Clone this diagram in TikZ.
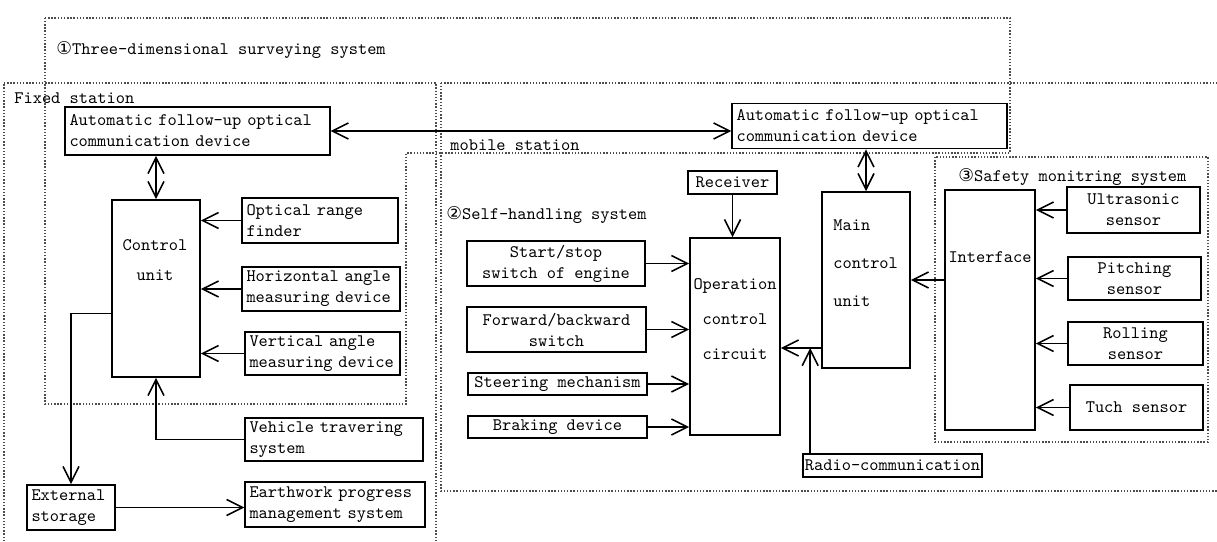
\documentclass[tikz,border=0pt]{standalone}
\usepackage{fontspec}
\newfontfamily\circfont{DejaVu Sans}
\usetikzlibrary{arrows.meta}

\begin{document}
\begin{tikzpicture}[x=0.02cm, y=-0.02cm,
    blk/.style = {draw, line width=0.9pt, font=\ttfamily, align=center, inner sep=1pt},
    lblk/.style = {blk, align=left, inner xsep=2.5pt},
    txt/.style = {font=\ttfamily, align=center, inner sep=0pt},
    frame/.style = {densely dotted, line width=0.8pt, black!70},
    arr/.style = {line width=0.9pt, -{Straight Barb[length=3.2mm, width=3.2mm]}},
    darr/.style = {line width=0.9pt, {Straight Barb[length=3.2mm, width=3.2mm]}-{Straight Barb[length=3.2mm, width=3.2mm]}}]
        \clip (0,0) rectangle (1217,541);

        % dotted frames
        \draw[frame] (45,18) -- (1010,18) -- (1010,153) -- (406,153) -- (406,404) -- (45,404) -- cycle;
        \draw[frame] (4,83) -- (436,83) -- (436,560) -- (4,560) -- cycle;
        \draw[frame] (441,83) -- (1240,83) -- (1240,491) -- (441,491) -- cycle;
        \draw[frame] (935,157) rectangle (1208,442);

        \node[txt, anchor=west] (title) at (56,50) {{\circfont ①}Three-dimensional surveying system};
        \node[txt, anchor=west] (fixlbl) at (14,98) {Fixed station};
        \node[txt, anchor=west] (moblbl) at (450,145) {mobile station};
        \node[txt, anchor=west] (selflbl) at (446,215) {{\circfont ②}Self-handling system};
        \node[txt, anchor=west] (safelbl) at (958,177) {{\circfont ③}Safety monitring system};

        % fixed station
        \node[lblk, text width=5.12cm, minimum height=0.96cm] (fixcomm) at (197.5,131) {Automatic follow-up optical\\communication device};
        \node[blk, minimum width=1.76cm, minimum height=3.54cm] (ctrl) at (156,288.5) {};
        \node[txt] (ctrltxt) at (155,260) {Control\\[5pt]unit};
        \node[lblk, text width=2.94cm, minimum height=0.9cm] (range) at (320,220.5) {Optical range\\finder};
        \node[lblk, text width=2.98cm, minimum height=0.88cm] (horiz) at (321,289) {Horizontal angle\\measuring device};
        \node[lblk, text width=2.92cm, minimum height=0.86cm] (vert) at (322.5,353.5) {Vertical angle\\measuring device};
        \node[lblk, text width=3.38cm, minimum height=0.86cm] (vehicle) at (334,439.5) {Vehicle travering\\system};
        \node[lblk, text width=1.58cm, minimum height=0.9cm] (extst) at (71,507.5) {External\\storage};
        \node[lblk, text width=3.42cm, minimum height=0.9cm] (earth) at (335,504.5) {Earthwork progress\\management system};

        \draw[darr] (ctrl.north) -- (ctrl.north |- fixcomm.south);
        \draw[arr] (range.west) -- (range.west -| ctrl.east);
        \draw[arr] (horiz.west) -- (horiz.west -| ctrl.east);
        \draw[arr] (vert.west) -- (vert.west -| ctrl.east);
        \draw[arr] (vehicle.west) -| (ctrl.south);
        \draw[arr] ([yshift=-0.5cm]ctrl.west) -| (extst.north);
        \draw[arr] (extst.east) -- (extst.east -| earth.west);

        % mobile station
        \node[lblk, text width=5.32cm, minimum height=0.9cm] (mobcomm) at (869.5,126) {Automatic follow-up optical\\communication device};
        \draw[darr] (fixcomm.east) -- (fixcomm.east -| mobcomm.west);

        \node[blk, minimum width=1.78cm, minimum height=0.46cm] (receiver) at (732.5,182.5) {Receiver};
        \node[blk, minimum width=1.8cm, minimum height=3.94cm] (opcirc) at (735,336.5) {};
        \node[txt] (opcirctxt) at (735,319) {Operation\\[8pt]control\\[8pt]circuit};
        \node[blk, minimum width=3.56cm, minimum height=0.9cm] (startstop) at (556,263.5) {Start/stop\\switch of engine};
        \node[blk, minimum width=3.58cm, minimum height=0.9cm] (fwd) at (556.5,329.5) {Forward/backward\\switch};
        \node[blk, minimum width=3.58cm, minimum height=0.44cm] (steer) at (557.5,384) {Steering mechanism};
        \node[blk, minimum width=3.58cm, minimum height=0.44cm] (brake) at (557.5,427) {Braking device};

        \draw[arr] (receiver.south) -- (receiver.south |- opcirc.north);
        \draw[arr] (startstop.east) -- (startstop.east -| opcirc.west);
        \draw[arr] (fwd.east) -- (fwd.east -| opcirc.west);
        \draw[arr] (steer.east) -- (steer.east -| opcirc.west);
        \draw[arr] (brake.east) -- (brake.east -| opcirc.west);

        \node[blk, minimum width=1.76cm, minimum height=3.52cm] (mainctrl) at (866,280) {};
        \node[txt, anchor=west, align=left] (mainctrltxt) at (833,263) {Main\\[9.5pt]control\\[9.5pt]unit};
        \node[blk, minimum width=3.58cm, minimum height=0.46cm] (radio) at (892.5,465.5) {Radio-communication};

        \draw[darr] (mainctrl.north) -- (mainctrl.north |- mobcomm.south);
        \coordinate (junc) at ([yshift=-1.36cm]mainctrl.west);
        \draw[arr] (junc) -- (junc -| opcirc.east);
        \draw[arr] ([xshift=0.16cm]radio.north west) -- ([xshift=0.16cm]radio.north west |- junc);

        % safety monitoring
        \node[blk, minimum width=1.8cm, minimum height=4.8cm] (interface) at (990,310) {};
        \node[txt] (interfacetxt) at (990,257) {Interface};
        \node[blk, minimum width=2.66cm, minimum height=0.92cm] (ultra) at (1133.5,210) {Ultrasonic\\sensor};
        \node[blk, minimum width=2.66cm, minimum height=0.86cm] (pitch) at (1134.5,278.5) {Pitching\\sensor};
        \node[blk, minimum width=2.7cm, minimum height=0.86cm] (roll) at (1135.5,343.5) {Rolling\\sensor};
        \node[blk, minimum width=2.66cm, minimum height=0.9cm] (tuch) at (1136.5,407.5) {Tuch sensor};

        \draw[arr] (mainctrl.east -| interface.west) -- (mainctrl.east);
        \draw[arr] (ultra.west) -- (ultra.west -| interface.east);
        \draw[arr] (pitch.west) -- (pitch.west -| interface.east);
        \draw[arr] (roll.west) -- (roll.west -| interface.east);
        \draw[arr] (tuch.west) -- (tuch.west -| interface.east);
\end{tikzpicture}
\end{document}
